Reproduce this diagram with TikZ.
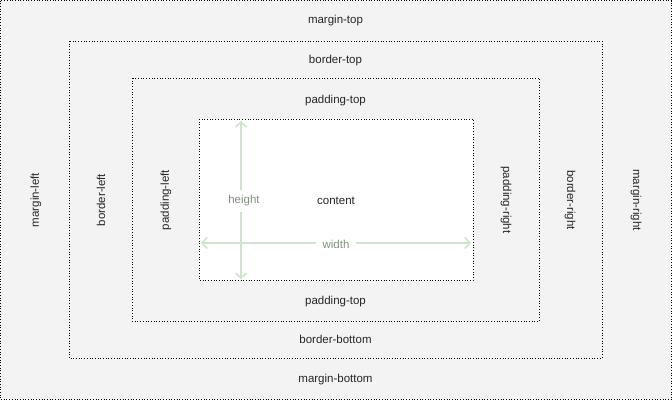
\documentclass[tikz,border=0pt]{standalone}
\usepackage{fontspec}
\setmainfont{Liberation Sans}
\usetikzlibrary{arrows.meta}
\definecolor{boxgray}{HTML}{F3F3F3}
\definecolor{dimline}{HTML}{CFE3CF}
\definecolor{dimtext}{HTML}{7F937F}
\tikzset{
	boxline/.style = {draw = black, dotted, line width = 0.7pt},
	lbl/.style = {font = \fontsize{11.5}{13}\selectfont, text = black!85},
	dimlbl/.style = {lbl, text = dimtext, fill = white, inner xsep = 7pt, inner ysep = 6pt},
	dimarrow/.style = {draw = dimline, line width = 1.6pt, {Straight Barb[length=5pt,width=11pt]}-{Straight Barb[length=5pt,width=11pt]}}
}
\begin{document}
\begin{tikzpicture}[x = 1pt, y = -1pt]
\useasboundingbox (0, 0) rectangle (672, 400);

	% Boxes

	\fill [boxgray] (0, 0) rectangle (672, 400);
	\draw [boxline] (0.5, 0.5) rectangle (671.5, 399.5);
	\draw [boxline] (69, 41) rectangle (602, 358);
	\draw [boxline] (132, 78) rectangle (539, 321);
	\draw [boxline, fill = white] (199, 119) rectangle (473, 280);

	% Margin

	\node [lbl] (mtop) at (335.5, 21) {margin-top};
	\node [lbl] (mbottom) at (335.5, 380) {margin-bottom};
	\node [lbl, rotate = 90] (mleft) at (36, 200) {margin-left};
	\node [lbl, rotate = -90] (mright) at (636, 200) {margin-right};

	% Border

	\node [lbl] (btop) at (335.5, 61) {border-top};
	\node [lbl] (bbottom) at (335.5, 339) {border-bottom};
	\node [lbl, rotate = 90] (bleft) at (101, 200) {border-left};
	\node [lbl, rotate = -90] (bright) at (570, 200) {border-right};

	% Padding

	\node [lbl] (ptop) at (335.5, 101) {padding-top};
	\node [lbl] (pbottom) at (335.5, 302) {padding-top};
	\node [lbl, rotate = 90] (pleft) at (166, 200) {padding-left};
	\node [lbl, rotate = -90] (pright) at (506, 200) {padding-right};

	% Content and dimensions

	\coordinate (wl) at (201, 243);
	\coordinate (wr) at (471, 243);
	\coordinate (ht) at (241, 121);
	\coordinate (hb) at (241, 279);
	\draw [dimarrow] (wl) -- (wr);
	\draw [dimarrow] (ht) -- (hb);
	\node [lbl] (content) at (336, 201) {content};
	\node [dimlbl] (height) at (244, 201) {height};
	\node [dimlbl] (width) at (336, 244) {width};

\end{tikzpicture}
\end{document}
